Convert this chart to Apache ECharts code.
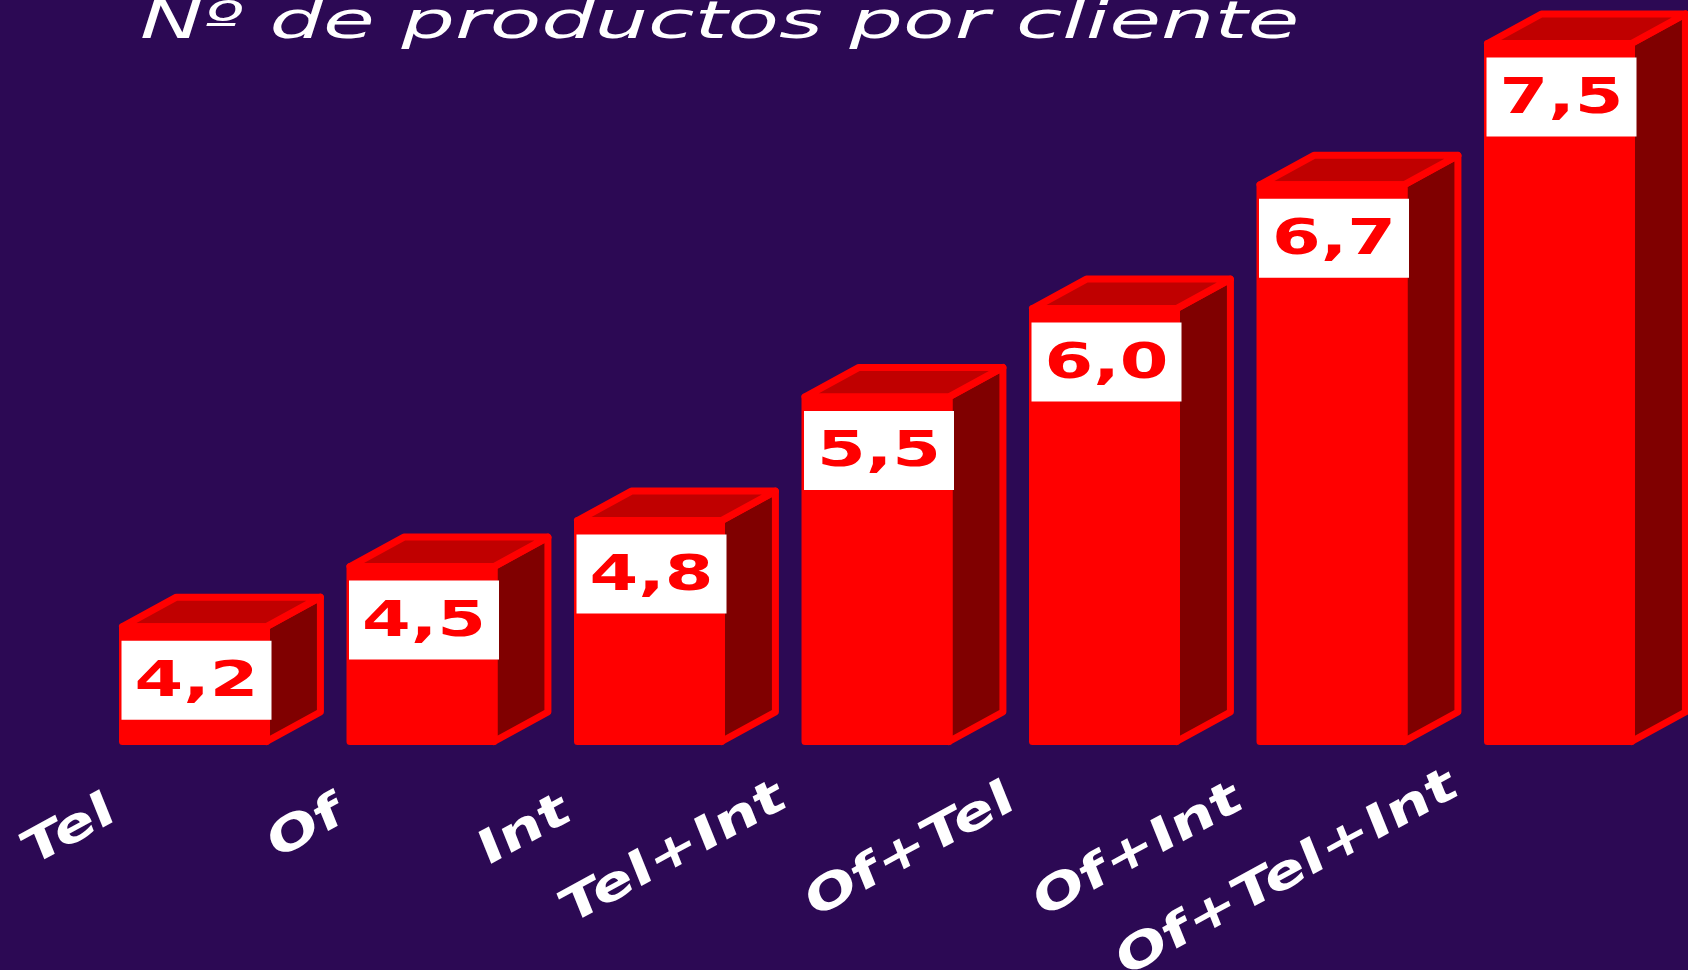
<!DOCTYPE html>
<html lang="es">
<head>
    <meta charset="UTF-8">
    <title>productos por cliente</title>
    <style>
        html, body {margin: 0; padding: 0; background: #2c0954;}
        #main {width: 1688px; height: 970px;}
    </style>
</head>
<body>
<div id="main"></div>
<script src="https://cdn.jsdelivr.net/npm/echarts@6/dist/echarts.min.js"></script>
<script type="text/javascript">
    var categories = ['Tel', 'Of', 'Int', 'Tel+Int', 'Of+Tel', 'Of+Int', 'Of+Tel+Int'];
    var values = [4.2, 4.54, 4.8, 5.5, 6.0, 6.7, 7.5];
    var yMin = 3.55;
    var yMax = 7.5;

    var deg = Math.PI / 180;
    var labelFont = 'bold 48px "DejaVu Sans"';

    // width of a label in em, used to place the rotated category labels
    var measureCtx = document.createElement('canvas').getContext('2d');
    function emWidth(t) {
        measureCtx.font = 'bold 100px "DejaVu Sans"';
        return measureCtx.measureText(t).width / 100;
    }

    function fmt(v) {
        return v.toFixed(1).replace('.', ',');
    }

    // 3D box + white value box + sheared category label
    function renderBox(params, api) {
        var i = api.value(0);
        var v = api.value(1);
        var top = api.coord([i, v]);
        var base = api.coord([i, yMin]);
        var band = api.size([1, 0])[0];
        var w = band * 0.633;
        var dx = band * 0.237;
        var dy = -29.5;
        var x0 = top[0] - w / 2, x1 = top[0] + w / 2;
        var yt = top[1], yb = base[1];
        var edge = {stroke: '#ff0000', lineWidth: 7, lineJoin: 'round'};
        var n = emWidth(categories[i]);

        return {
            type: 'group',
            children: [
                {
                    type: 'polygon',
                    shape: {points: [[x1, yt], [x1 + dx, yt + dy], [x1 + dx, yb + dy], [x1, yb]]},
                    style: Object.assign({fill: '#800000'}, edge)
                },
                {
                    type: 'polygon',
                    shape: {points: [[x0, yt], [x1, yt], [x1 + dx, yt + dy], [x0 + dx, yt + dy]]},
                    style: Object.assign({fill: '#c00000'}, edge)
                },
                {
                    type: 'rect',
                    shape: {x: x0, y: yt, width: w, height: yb - yt},
                    style: Object.assign({fill: '#ff0000'}, edge)
                },
                {
                    type: 'rect',
                    shape: {x: top[0] + 2 - 75, y: yt + 14, width: 150, height: 79},
                    style: {fill: '#ffffff'}
                },
                {
                    type: 'text',
                    x: top[0] + 2,
                    y: yt + 14 + 42.5,
                    scaleX: 1.4,
                    style: {
                        text: fmt(v),
                        fill: '#ff0000',
                        font: 'bold 50px "DejaVu Sans"',
                        align: 'center',
                        verticalAlign: 'middle'
                    }
                },
                {
                    type: 'group',
                    x: top[0] - 74 - 5 * n,
                    y: yb + 75.5 - 5.5 * n,
                    scaleX: 0.862,
                    children: [{
                        type: 'text',
                        rotation: 25.1 * deg,
                        scaleX: 1.47,
                        style: {
                            text: categories[i],
                            fill: '#ffffff',
                            font: labelFont,
                            align: 'right',
                            verticalAlign: 'middle'
                        }
                    }]
                }
            ]
        };
    }

    var myChart = echarts.init(document.getElementById('main'));
    myChart.setOption({
        backgroundColor: '#2c0954',
        animation: false,
        grid: {left: 80.75, right: 14.75, top: 43.5, bottom: 228.5},
        xAxis: {type: 'category', data: categories, show: false},
        yAxis: {type: 'value', min: yMin, max: yMax, show: false},
        graphic: [{
            type: 'text',
            x: 140,
            y: 24,
            scaleX: 1.62,
            style: {
                text: 'Nº de productos por cliente',
                fill: '#ffffff',
                font: 'italic 52px "DejaVu Sans"',
                align: 'left',
                verticalAlign: 'middle'
            }
        }],
        series: [{
            type: 'custom',
            clip: false,
            renderItem: renderBox,
            data: values.map(function (v, i) { return [i, v]; })
        }]
    });
</script>
</body>
</html>
